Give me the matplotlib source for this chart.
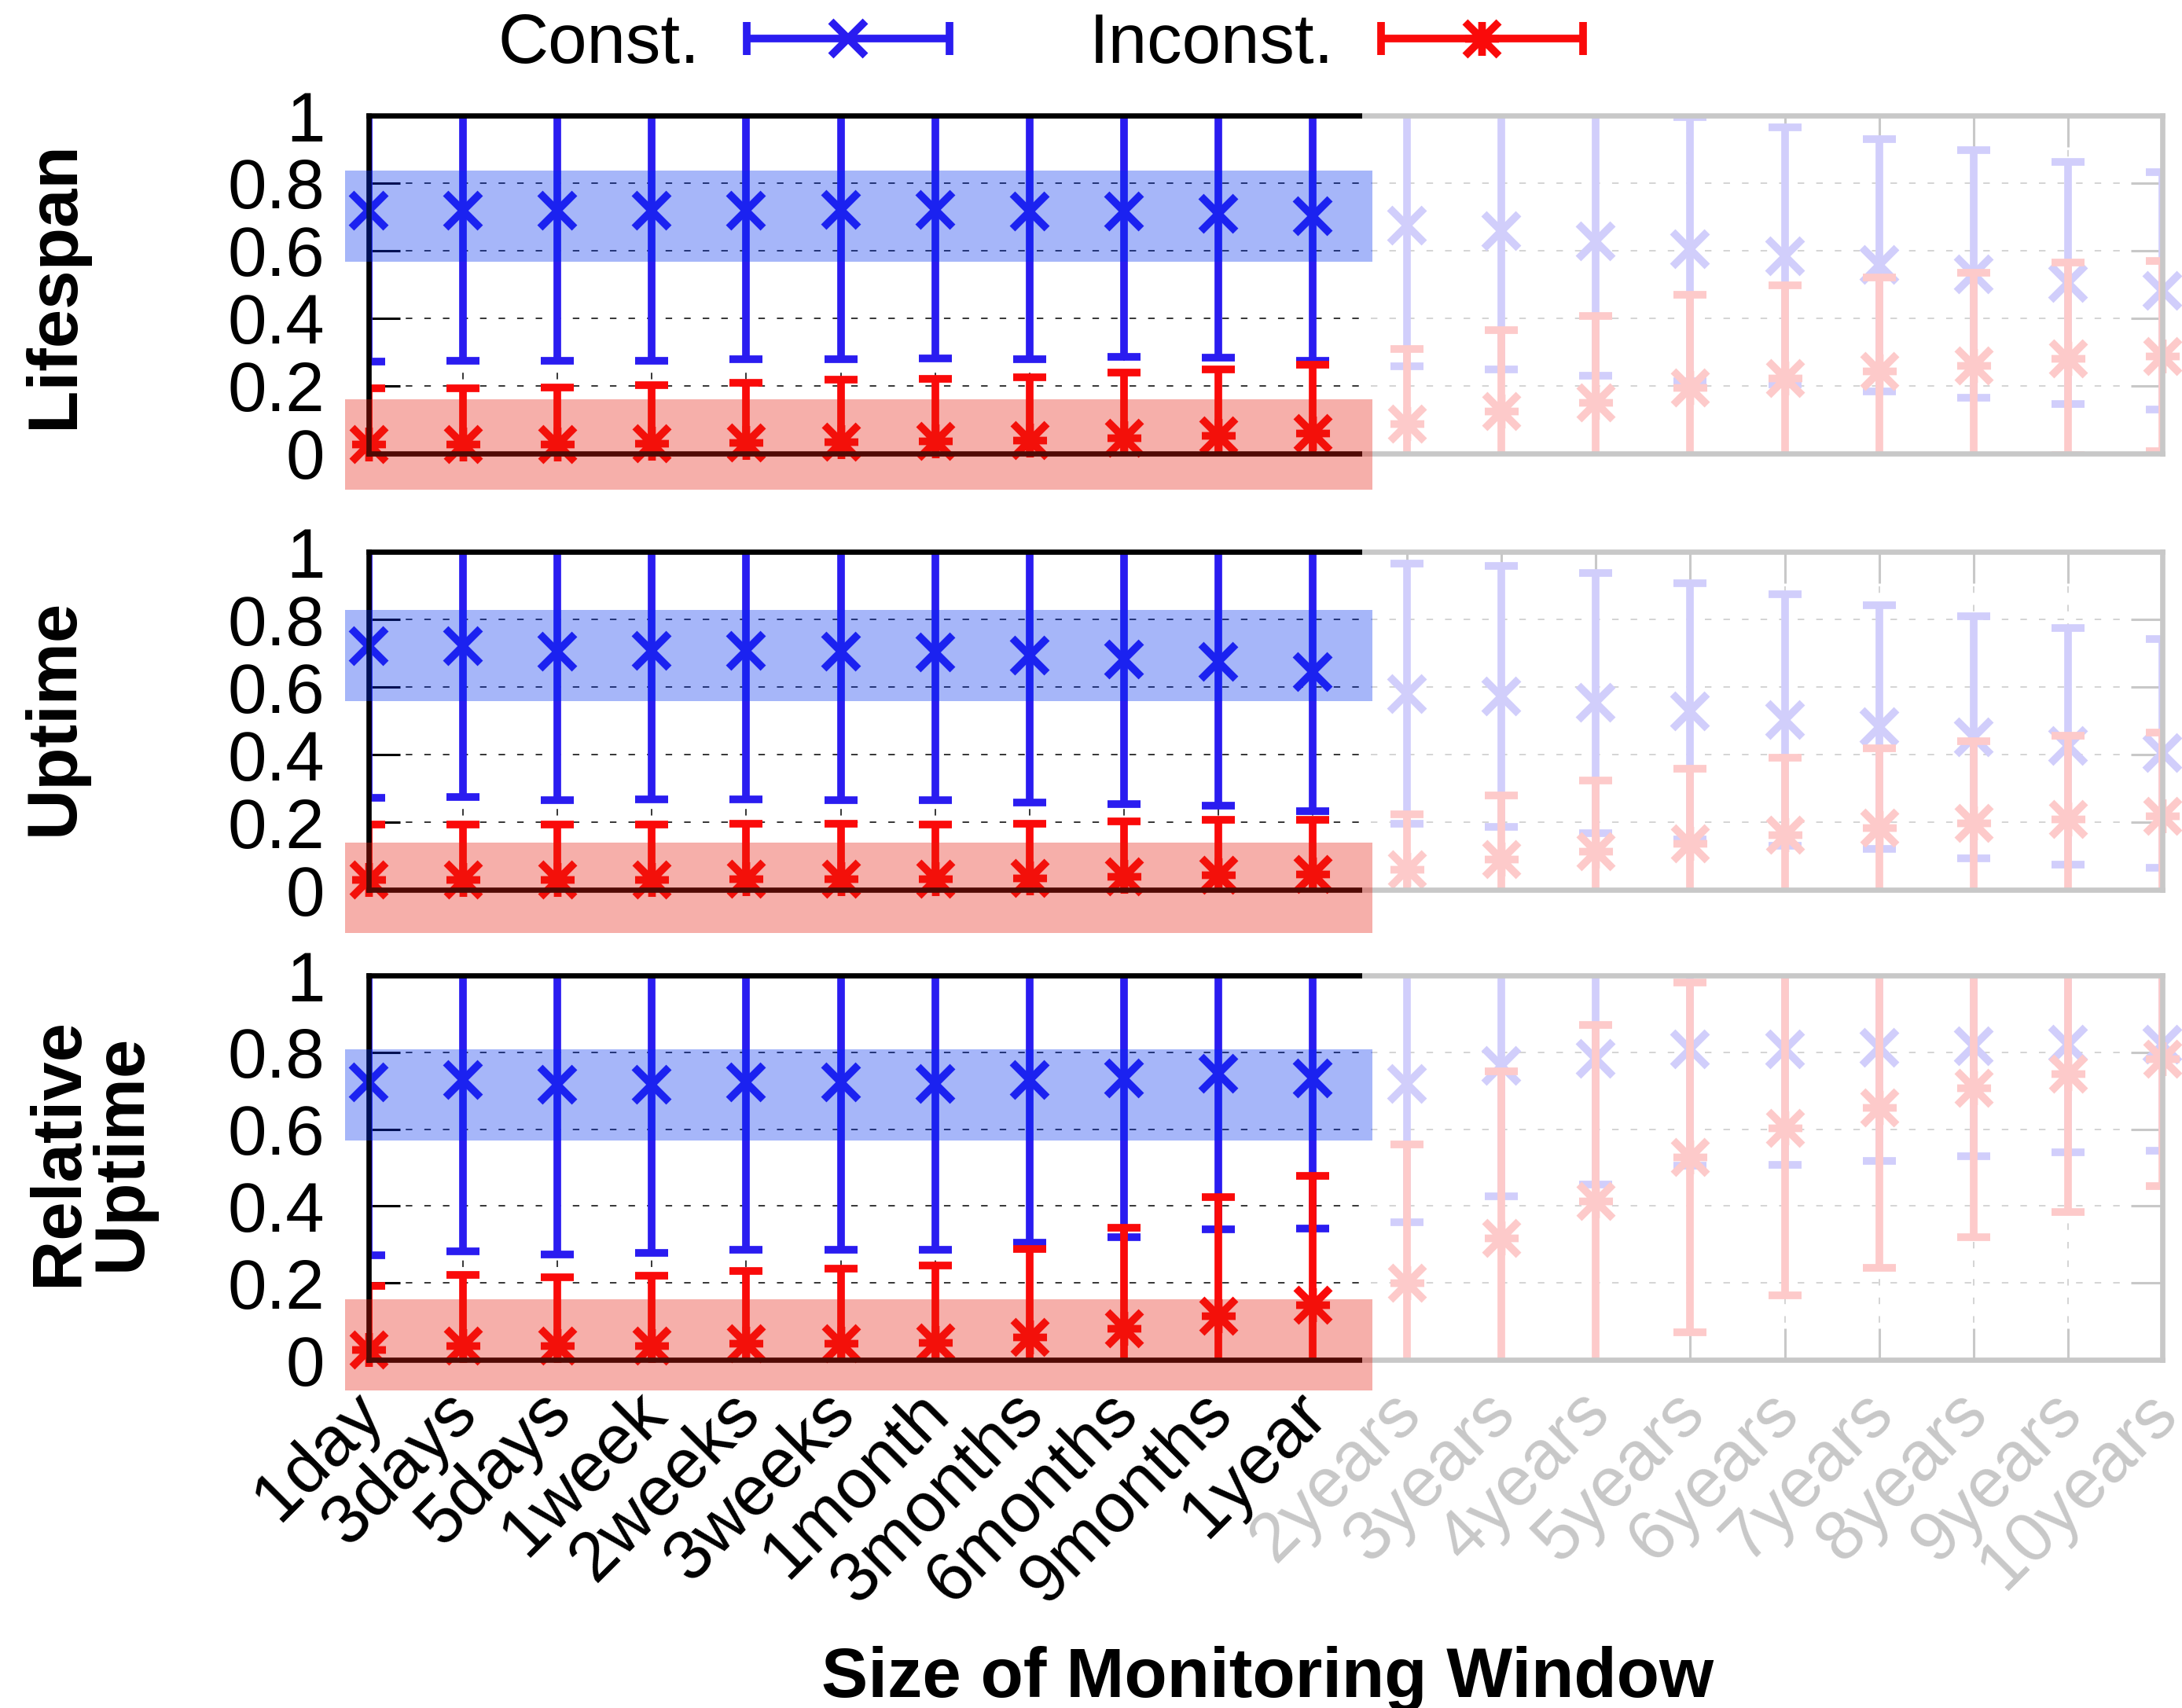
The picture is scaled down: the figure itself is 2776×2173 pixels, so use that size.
import numpy as np
import matplotlib
matplotlib.use('Agg')
import matplotlib.pyplot as plt
from matplotlib.path import Path
from matplotlib.lines import Line2D
from matplotlib.patches import Rectangle
from matplotlib.legend_handler import HandlerBase
import matplotlib.transforms as mtransforms

plt.rcParams['font.family'] = ['Liberation Sans', 'DejaVu Sans']
plt.rcParams['lines.scale_dashes'] = False

# ---------------- data ----------------
windows = ["1day", "3days", "5days", "1week", "2weeks", "3weeks", "1month",
           "3months", "6months", "9months", "1year", "2years", "3years",
           "4years", "5years", "6years", "7years", "8years", "9years", "10years"]
n_highlight = 11  # first 11 windows are shown emphasised

metrics = ["Lifespan", "Uptime", "Relative\nUptime"]

lifespan_const_mean = [0.719, 0.719, 0.719, 0.719, 0.719, 0.722, 0.722, 0.717, 0.717, 0.710,
                       0.702, 0.675, 0.657, 0.629, 0.604, 0.584, 0.557, 0.531, 0.505, 0.481]
lifespan_const_std = [0.448, 0.445, 0.445, 0.444, 0.441, 0.443, 0.441, 0.438, 0.431, 0.427,
                      0.427, 0.416, 0.408, 0.398, 0.391, 0.380, 0.373, 0.366, 0.358, 0.351]
lifespan_incon_mean = [0.028, 0.028, 0.029, 0.031, 0.032, 0.034, 0.037, 0.040, 0.046, 0.053,
                       0.060, 0.088, 0.125, 0.152, 0.195, 0.223, 0.245, 0.260, 0.281, 0.289]
lifespan_incon_std = [0.164, 0.164, 0.167, 0.171, 0.178, 0.184, 0.183, 0.186, 0.193, 0.195,
                      0.202, 0.221, 0.241, 0.256, 0.275, 0.275, 0.277, 0.276, 0.285, 0.281]

uptime_const_mean = [0.721, 0.721, 0.704, 0.706, 0.706, 0.704, 0.702, 0.693, 0.682, 0.675,
                     0.644, 0.580, 0.572, 0.553, 0.528, 0.502, 0.481, 0.451, 0.425, 0.404]
uptime_const_std = [0.449, 0.446, 0.439, 0.439, 0.439, 0.438, 0.437, 0.436, 0.429, 0.427,
                    0.412, 0.384, 0.386, 0.385, 0.378, 0.372, 0.361, 0.358, 0.350, 0.338]
uptime_incon_mean = [0.030, 0.031, 0.031, 0.031, 0.033, 0.033, 0.033, 0.035, 0.039, 0.044,
                     0.046, 0.060, 0.090, 0.114, 0.138, 0.162, 0.183, 0.197, 0.209, 0.218]
uptime_incon_std = [0.164, 0.162, 0.162, 0.163, 0.163, 0.163, 0.161, 0.161, 0.164, 0.163,
                    0.160, 0.164, 0.189, 0.209, 0.221, 0.229, 0.235, 0.243, 0.247, 0.248]

reluptime_const_mean = [0.722, 0.729, 0.715, 0.716, 0.722, 0.721, 0.718, 0.729, 0.733, 0.744,
                        0.733, 0.717, 0.764, 0.784, 0.808, 0.808, 0.811, 0.816, 0.821, 0.821]
reluptime_const_std = [0.450, 0.446, 0.441, 0.438, 0.435, 0.434, 0.432, 0.425, 0.415, 0.405,
                       0.391, 0.359, 0.338, 0.328, 0.302, 0.300, 0.294, 0.287, 0.282, 0.277]
reluptime_incon_mean = [0.027, 0.036, 0.036, 0.036, 0.043, 0.043, 0.045, 0.060, 0.082, 0.115,
                        0.144, 0.200, 0.316, 0.413, 0.527, 0.603, 0.657, 0.707, 0.745, 0.784]
reluptime_incon_std = [0.166, 0.185, 0.179, 0.183, 0.189, 0.195, 0.200, 0.228, 0.261, 0.308,
                       0.334, 0.361, 0.434, 0.458, 0.455, 0.435, 0.418, 0.389, 0.361, 0.333]

# shaded reference bands (low, high) per metric
const_band = [(0.568, 0.837), (0.559, 0.827), (0.571, 0.808)]
incon_band = [(-0.108, 0.161), (-0.129, 0.140), (-0.079, 0.157)]

yticks = [0, 0.2, 0.4, 0.6, 0.8, 1]
yticklabels = ["0", "0.2", "0.4", "0.6", "0.8", "1"]

const_data = [(lifespan_const_mean, lifespan_const_std),
              (uptime_const_mean, uptime_const_std),
              (reluptime_const_mean, reluptime_const_std)]
incon_data = [(lifespan_incon_mean, lifespan_incon_std),
              (uptime_incon_mean, uptime_incon_std),
              (reluptime_incon_mean, reluptime_incon_std)]

# ---------------- style ----------------
BLUE = '#2a1cf0'
RED = '#fa0a0a'
BAND_BLUE = '#0030f0'
BAND_RED = '#e81c0c'
FADE_GRAY = '#c8c8c8'
FS = 64

star_path = Path([(-1, -1), (1, 1), (-1, 1), (1, -1), (-1, 0), (1, 0), (0, -1), (0, 1)],
                 [Path.MOVETO, Path.LINETO] * 4)

MS = 31
MEW = 7
ELW = 7
CAP = 15

W, H = 2776, 2173
fig = plt.figure(figsize=(W / 100, H / 100), dpi=100)

left = 469 / W
width = (2751 - 469) / W
panels_px = [(147, 577), (702, 1132), (1241, 1730)]
label_y_px = [362, 912, 1466]
label_x_px = [70, 70, 115]

x = np.arange(len(windows))
fade_start = n_highlight - 1 + 0.52
band_x0, band_x1 = -0.25, n_highlight - 1 + 0.63

axes = []
for i, (t, b) in enumerate(panels_px):
    ax = fig.add_axes([left, 1 - b / H, width, (b - t) / H])
    axes.append(ax)
    ax.set_xlim(0, len(windows) - 1)
    ax.set_ylim(0, 1)
    ax.set_axisbelow(True)
    for sp in ax.spines.values():
        sp.set_linewidth(4.8)
        sp.set_color('black')
    ax.set_yticks(yticks)
    ax.set_yticklabels(yticklabels)
    ax.set_xticks(x)
    ax.tick_params(axis='both', direction='in', length=28.8, width=2.2,
                   top=True, right=True, labelsize=FS, color='black')
    ax.tick_params(axis='y', pad=40)
    ax.grid(True, color='black', lw=1.1, ls=(0, (6, 11)))

    cm, cs = const_data[i]
    im, is_ = incon_data[i]
    ax.errorbar(x, cm, yerr=cs, fmt='none', ecolor=BLUE, elinewidth=ELW,
                capsize=CAP, capthick=ELW, zorder=2)
    hc, = ax.plot(x, cm, ls='none', marker='x', ms=MS, mew=MEW, color=BLUE,
                  clip_on=False, zorder=2.1, label='Const.')
    ax.errorbar(x, im, yerr=is_, fmt='none', ecolor=RED, elinewidth=ELW,
                capsize=CAP, capthick=ELW, zorder=2.2)
    hi, = ax.plot(x, im, ls='none', marker=star_path, ms=MS, mew=MEW, color=RED,
                  mfc='none', clip_on=False, zorder=2.3, label='Inconst.')

    # fade the windows beyond the highlighted range
    ax.add_patch(Rectangle((fade_start, -0.03), len(windows) + 1 - fade_start, 1.06,
                           facecolor='white', edgecolor='none', alpha=0.79,
                           zorder=5, clip_on=False))
    # reference bands
    lo, hi_ = const_band[i]
    ax.add_patch(Rectangle((band_x0, lo), band_x1 - band_x0, hi_ - lo,
                           facecolor=BAND_BLUE, edgecolor='none', alpha=0.35,
                           zorder=6, clip_on=False))
    lo, hi_ = incon_band[i]
    ax.add_patch(Rectangle((band_x0, lo), band_x1 - band_x0, hi_ - lo,
                           facecolor=BAND_RED, edgecolor='none', alpha=0.35,
                           zorder=6, clip_on=False))

    if i < 2:
        ax.tick_params(axis='x', labelbottom=False)
    else:
        ax.set_xticklabels(windows, rotation=45, ha='right', va='top',
                           rotation_mode='anchor')
        ax.tick_params(axis='x', pad=18)
        off = mtransforms.ScaledTranslation(-25 / 100, 0, fig.dpi_scale_trans)
        for j, lab in enumerate(ax.get_xticklabels()):
            lab.set_transform(lab.get_transform() + off)
            if j >= n_highlight:
                lab.set_color(FADE_GRAY)

    fig.text(label_x_px[i] / W, 1 - label_y_px[i] / H, metrics[i], rotation=90,
             ha='center', va='center', fontsize=FS, fontweight='bold',
             linespacing=0.95, multialignment='center')

fig.text(1613 / W, 14 / H, "Size of Monitoring Window", ha='center', va='baseline',
         fontsize=FS, fontweight='bold')


class HandlerHErr(HandlerBase):
    def __init__(self, color, marker, mfc):
        super().__init__()
        self.color = color
        self.marker = marker
        self.mfc = mfc

    def create_artists(self, legend, orig_handle, xdescent, ydescent, width,
                       height, fontsize, trans):
        y = height / 2 - ydescent
        x0 = -xdescent
        x1 = x0 + width
        arts = [Line2D([x0, x1], [y, y], color=self.color, lw=ELW,
                       solid_capstyle='butt', transform=trans),
                Line2D([x0, x0], [y - CAP, y + CAP], color=self.color, lw=ELW,
                       solid_capstyle='butt', transform=trans),
                Line2D([x1, x1], [y - CAP, y + CAP], color=self.color, lw=ELW,
                       solid_capstyle='butt', transform=trans),
                Line2D([(x0 + x1) / 2], [y], ls='none', marker=self.marker, ms=MS,
                       mew=MEW, color=self.color, mfc=self.mfc, transform=trans)]
        return arts


leg = fig.legend([hc, hi], ['Const.', 'Inconst.'],
                 handler_map={hc: HandlerHErr(BLUE, 'x', BLUE),
                              hi: HandlerHErr(RED, star_path, 'none')},
                 loc='center', bbox_to_anchor=(1324 / W, 1 - 57 / H),
                 ncol=2, markerfirst=False, frameon=False, fontsize=FS,
                 handlelength=2.9, handletextpad=0.67, columnspacing=2.0,
                 borderpad=0, borderaxespad=0)

fig.savefig('out.png', dpi=100)
